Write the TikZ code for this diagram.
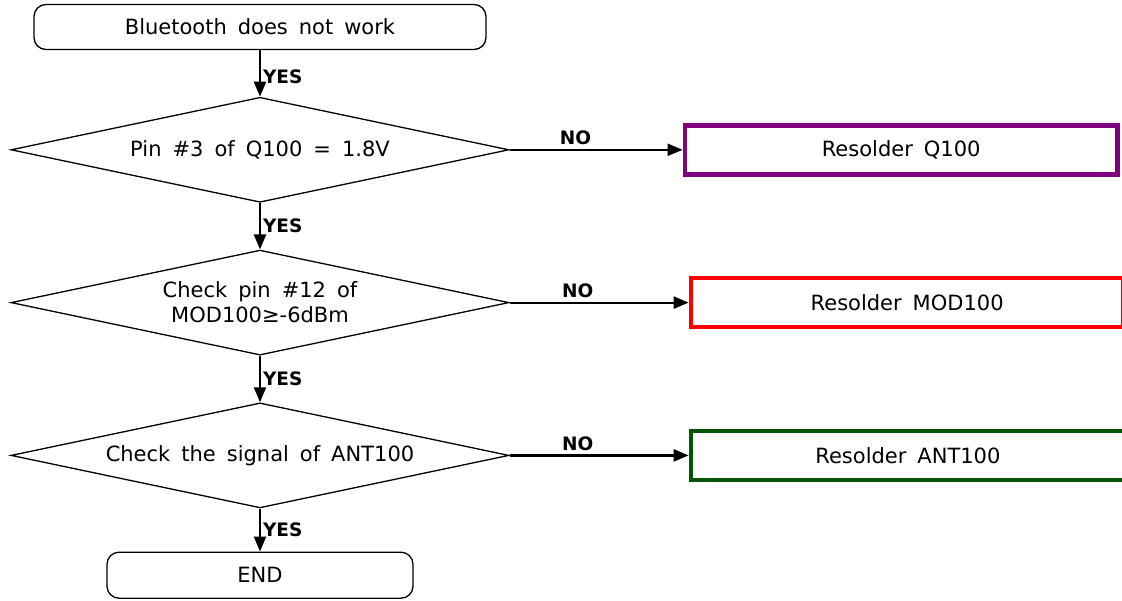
\documentclass[tikz,border=0pt]{standalone}
\usepackage{fontspec}
\setmainfont[WordSpace=1.65]{DejaVu Sans}
\usetikzlibrary{arrows.meta,positioning,shapes.geometric}
\definecolor{fixpurple}{HTML}{800080}
\definecolor{fixred}{HTML}{FF0000}
\definecolor{fixgreen}{HTML}{005500}

\begin{document}
\begin{tikzpicture}[x=1pt, y=1pt, node distance=46.5pt,
    every node/.style={font=\fontsize{21}{25}\selectfont},
    terminal/.style={draw, line width=1.3pt, rounded corners=12pt, minimum height=45pt, inner sep=0pt},
    check/.style={draw, line width=1.3pt, diamond, aspect=4.7, minimum width=498pt, minimum height=105pt, inner sep=0pt, align=center},
    fixbox/.style={draw=#1, line width=4.5pt, minimum width=432.5pt, minimum height=49pt, inner sep=0pt},
    flow/.style={-{Triangle[length=15pt, width=12pt]}, line width=2.2pt},
    answer/.style={font=\fontsize{18.5}{22}\selectfont\bfseries, inner sep=2pt}]
    \useasboundingbox (0,0) rectangle (1122,-600);
    \clip (0,0) rectangle (1122,-600);

    % main column
    \node[terminal, minimum width=452pt] (start) at (260,-27) {Bluetooth does not work};
    \node[check, below=of start] (pin3) {Pin \#3 of Q100 = 1.8V};
    \node[check, below=of pin3] (pin12) {Check pin \#12 of\\MOD100≥-6dBm};
    \node[check, below=of pin12] (signal) {Check the signal of ANT100};
    \node[terminal, minimum width=306pt, minimum height=46pt, below=43pt of signal] (end) {END};

    % repair boxes
    \node[fixbox=fixpurple, right=173pt of pin3] (q100) {Resolder Q100};
    \node[fixbox=fixred, right=179pt of pin12] (mod100) {Resolder MOD100};
    \node[fixbox=fixgreen, minimum width=434pt, right=179pt of signal] (ant100) {Resolder ANT100};

    \draw[flow] (start) -- node[answer, right, pos=0.57] {YES} (pin3);
    \draw[flow] (pin3) -- node[answer, right, pos=0.5] {YES} (pin12);
    \draw[flow] (pin12) -- node[answer, right, pos=0.5] {YES} (signal);
    \draw[flow] (signal) -- node[answer, right, pos=0.5] {YES} (end);

    \draw[flow] (pin3) -- node[answer, above, inner sep=3.5pt, pos=0.38] {NO} (q100);
    \draw[flow] (pin12) -- node[answer, above, inner sep=3.5pt, pos=0.38] {NO} (mod100);
    \draw[flow] (signal) -- node[answer, above, inner sep=3.5pt, pos=0.38] {NO} (ant100);
  \end{tikzpicture}
\end{document}
